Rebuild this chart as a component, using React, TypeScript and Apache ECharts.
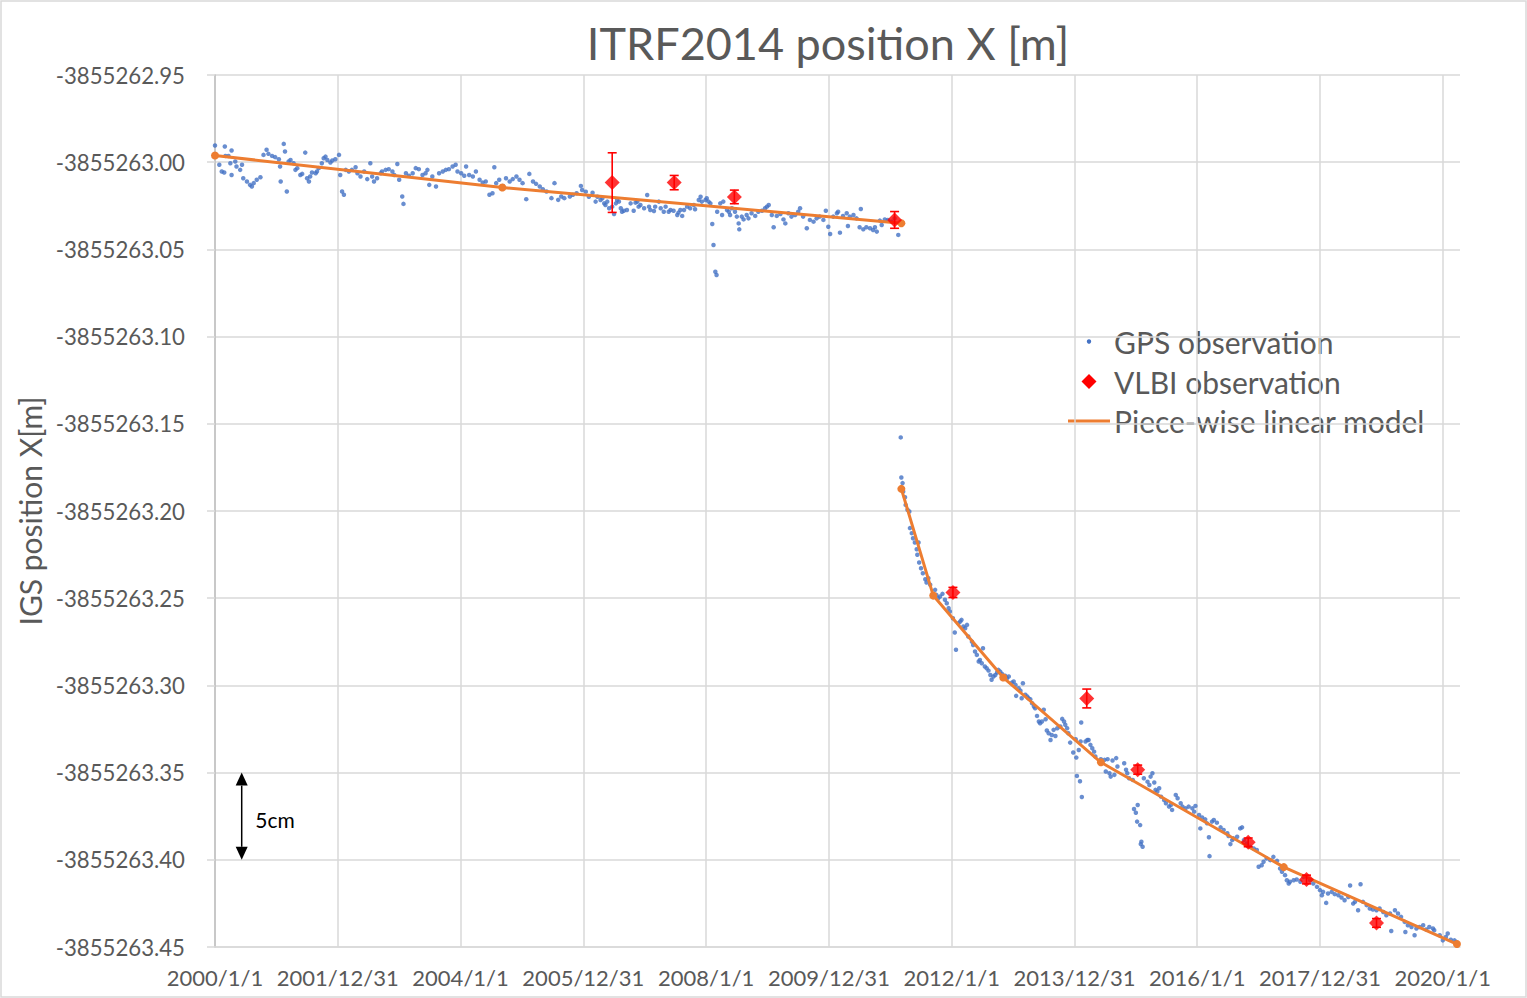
import React, { useEffect, useRef } from "react";
import * as echarts from "echarts";

// Reference level: values below are offsets from this position, in millimetres.
const REF_X_M = -3855263;

// x values are decimal years (365.25-day years counted from 2000/1/1)
const X_TICK_YEARS = [2000, 2002, 2004, 2006, 2008, 2010, 2012, 2014, 2016, 2018, 2020];

const GPS_BEFORE: [number, number][] = [
  [2000.00,9.6],[2000.16,9.0],[2000.17,3.6],[2000.27,6.7],[2000.22,3.6],[2000.07,-1.5],[2000.11,-5.3],[2000.15,-5.9],
  [2000.27,-7.3],[2000.25,-0.6],[2000.33,0.4],[2000.35,-2.5],[2000.41,-4.4],[2000.44,-1.5],[2000.46,-9.2],[2000.52,-11.1],
  [2000.57,-13.0],[2000.60,-13.9],[2000.63,-12.0],[2000.68,-10.1],[2000.74,-8.6],[2000.79,4.2],[2000.84,7.1],[2000.87,4.8],
  [2000.93,3.6],[2000.98,2.9],[2001.04,1.7],[2001.06,-2.5],[2001.07,-11.1],[2001.12,10.5],[2001.14,6.1],[2001.17,-16.8],
  [2001.20,0.4],[2001.23,1.3],[2001.28,-0.6],[2001.31,-4.4],[2001.34,-3.4],[2001.39,-7.3],[2001.42,-6.7],[2001.47,5.5],
  [2001.50,-9.2],[2001.53,-11.1],[2001.55,-8.2],[2001.58,-5.9],[2001.64,-6.3],[2001.66,-5.3],[2001.69,-3.4],[2001.74,-0.6],
  [2001.77,2.3],[2001.80,3.2],[2001.83,1.3],[2001.88,-0.2],[2001.91,1.0],[2001.96,1.7],[2002.02,4.2],[2002.04,-7.3],
  [2002.07,-16.8],[2002.10,-18.7],[2002.13,-4.4],[2002.18,-5.3],[2002.23,-4.4],[2002.29,-2.9],[2002.32,-6.3],[2002.37,-8.2],
  [2002.43,-5.3],[2002.48,-9.7],[2002.53,-0.6],[2002.56,-8.2],[2002.59,-11.1],[2002.64,-9.2],[2002.70,-6.3],[2002.72,-5.3],
  [2002.78,-4.4],[2002.83,-4.0],[2002.89,-5.3],[2002.92,-7.3],[2002.97,-1.0],[2003.00,-10.1],[2003.05,-19.7],[2003.07,-23.9],
  [2003.11,-6.3],[2003.16,-7.8],[2003.22,-6.3],[2003.27,-3.4],[2003.32,-4.0],[2003.38,-7.3],[2003.43,-6.3],[2003.46,-4.4],
  [2003.49,-13.0],[2003.54,-8.2],[2003.60,-13.9],[2003.65,-6.3],[2003.71,-5.3],[2003.76,-4.4],[2003.81,-4.0],[2003.87,-2.5],
  [2003.92,-1.5],[2003.95,-5.3],[2004.01,-6.3],[2004.06,-7.8],[2004.09,-2.5],[2004.14,-7.3],[2004.20,-8.2],[2004.25,-5.3],
  [2004.31,-10.1],[2004.36,-11.7],[2004.41,-11.1],[2004.47,-18.7],[2004.52,-17.8],[2004.55,-2.9],[2004.58,-12.0],[2004.63,-10.1],
  [2004.69,-13.6],[2004.74,-9.2],[2004.80,-11.1],[2004.85,-9.7],[2004.91,-8.2],[2004.96,-10.1],[2005.01,-12.0],[2005.07,-21.2],
  [2005.12,-6.7],[2005.18,-11.1],[2005.23,-12.4],[2005.29,-13.9],[2005.34,-15.5],[2005.40,-16.8],[2005.48,-20.6],[2005.53,-12.0],
  [2005.59,-21.6],[2005.64,-19.7],[2005.69,-20.6],[2005.78,-19.7],[2005.83,-18.7],[2005.89,-17.8],
  [2005.96,-13.6],[2005.98,-15.9],[2006.04,-16.9],[2006.09,-19.8],[2006.15,-17.5],[2006.20,-22.6],[2006.23,-19.8],[2006.28,-21.7],
  [2006.31,-20.7],[2006.34,-23.6],[2006.36,-24.5],[2006.39,-22.6],[2006.42,-26.4],[2006.47,-25.5],[2006.50,-29.7],[2006.53,-23.6],
  [2006.55,-21.7],[2006.58,-22.6],[2006.61,-26.4],[2006.63,-28.4],[2006.66,-27.8],[2006.71,-27.4],[2006.77,-23.6],[2006.82,-27.8],
  [2006.85,-23.2],[2006.88,-22.6],[2006.90,-25.5],[2006.93,-24.5],[2006.99,-26.4],[2007.04,-18.8],[2007.07,-25.5],[2007.09,-27.4],
  [2007.15,-28.0],[2007.17,-25.5],[2007.23,-22.6],[2007.26,-26.4],[2007.31,-28.4],[2007.34,-25.5],[2007.39,-28.4],[2007.42,-27.4],
  [2007.47,-27.8],[2007.53,-30.3],[2007.55,-28.9],[2007.58,-27.4],[2007.61,-30.8],[2007.64,-27.4],[2007.69,-25.5],[2007.74,-26.4],
  [2007.80,-24.5],[2007.82,-27.0],[2007.88,-21.7],[2007.91,-19.8],[2007.93,-22.6],[2007.99,-21.7],[2008.01,-20.7],[2008.04,-22.6],
  [2008.07,-23.6],[2008.10,-35.4],[2008.12,-47.5],[2008.15,-62.8],[2008.17,-64.7],[2008.18,-28.4],[2008.23,-23.6],[2008.26,-30.3],
  [2008.28,-22.6],[2008.34,-27.4],[2008.37,-28.4],[2008.39,-30.3],[2008.42,-26.4],[2008.47,-28.4],[2008.50,-31.2],[2008.53,-35.1],
  [2008.54,-38.5],[2008.58,-31.2],[2008.61,-32.8],[2008.66,-30.3],[2008.69,-32.2],[2008.74,-29.3],[2008.80,-30.8],[2008.85,-28.4],
  [2008.91,-27.8],[2008.96,-26.4],[2008.99,-25.5],[2009.02,-24.5],[2009.07,-30.3],[2009.10,-37.3],[2009.15,-30.8],[2009.21,-29.7],
  [2009.26,-32.8],[2009.29,-35.1],[2009.34,-29.3],[2009.39,-31.2],[2009.45,-30.3],[2009.50,-28.4],[2009.53,-26.4],[2009.58,-31.2],
  [2009.64,-37.9],[2009.69,-33.1],[2009.75,-34.1],[2009.80,-32.2],[2009.85,-31.2],[2009.91,-33.1],[2009.95,-27.8],[2009.99,-37.0],
  [2010.02,-41.2],[2010.07,-31.2],[2010.13,-29.3],[2010.15,-28.4],[2010.18,-40.4],[2010.23,-30.8],[2010.29,-29.3],[2010.31,-36.6],
  [2010.34,-31.2],[2010.40,-30.3],[2010.45,-32.2],[2010.50,-37.3],[2010.52,-26.8],[2010.56,-38.5],[2010.61,-37.3],[2010.67,-37.9],
  [2010.72,-38.9],[2010.75,-37.3],[2010.78,-39.8],[2010.83,-33.5],[2010.86,-36.0],[2010.91,-32.8],[2010.96,-33.1],[2011.02,-34.1],
  [2011.07,-32.2],[2011.13,-41.7],
];

const GPS_AFTER: [number, number][] = [
  [2011.17,-157.8],[2011.18,-180.8],[2011.20,-184.0],[2011.21,-188.8],[2011.24,-192.1],[2011.25,-196.5],[2011.28,-199.3],[2011.31,-200.3],
  [2011.32,-209.8],[2011.35,-212.7],[2011.37,-215.6],[2011.40,-218.1],[2011.43,-221.9],[2011.46,-218.1],[2011.44,-225.1],[2011.47,-229.5],
  [2011.50,-232.8],[2011.53,-235.7],[2011.57,-239.1],[2011.59,-241.0],[2011.62,-238.5],[2011.65,-242.3],[2011.73,-245.2],[2011.75,-248.1],
  [2011.78,-250.0],[2011.81,-249.0],[2011.85,-247.5],[2011.89,-250.9],[2011.92,-252.9],[2011.95,-255.7],[2011.97,-257.6],[2012.02,-261.5],
  [2012.05,-269.7],[2012.07,-279.6],[2012.11,-264.3],[2012.14,-263.4],[2012.16,-262.4],[2012.19,-266.2],[2012.22,-267.2],[2012.25,-265.3],
  [2012.27,-272.0],[2012.33,-274.9],[2012.35,-276.8],[2012.38,-280.6],[2012.41,-282.5],[2012.44,-286.3],[2012.46,-285.4],[2012.49,-287.3],
  [2012.51,-278.7],[2012.54,-289.2],[2012.57,-290.2],[2012.60,-291.5],[2012.63,-294.0],[2012.65,-296.8],[2012.68,-294.9],[2012.71,-294.0],
  [2012.74,-292.6],[2012.76,-291.1],[2012.79,-292.1],[2012.82,-293.4],[2012.87,-294.5],[2012.90,-295.9],[2012.93,-294.9],[2012.98,-298.4],
  [2013.01,-297.8],[2013.04,-299.7],[2013.05,-306.0],[2013.09,-301.6],[2013.12,-303.0],[2013.14,-307.4],[2013.16,-298.8],[2013.20,-305.4],
  [2013.23,-306.4],[2013.25,-307.4],[2013.28,-307.9],[2013.31,-310.2],[2013.34,-312.1],[2013.36,-313.1],[2013.39,-317.5],[2013.42,-320.7],
  [2013.44,-321.7],[2013.47,-320.7],[2013.50,-314.0],[2013.53,-319.4],[2013.55,-325.9],[2013.58,-327.4],[2013.61,-331.3],[2013.63,-328.4],
  [2013.66,-325.5],[2013.69,-329.0],[2013.72,-324.6],[2013.77,-323.6],[2013.80,-319.2],[2013.83,-320.7],[2013.85,-322.6],[2013.88,-324.6],
  [2013.90,-327.4],[2013.93,-332.8],[2013.98,-338.5],[2014.02,-330.9],[2014.03,-341.4],[2014.04,-351.9],[2014.07,-337.0],[2014.09,-355.0],
  [2014.10,-332.2],[2014.11,-321.3],[2014.12,-364.0],[2014.18,-332.2],[2014.21,-331.3],[2014.23,-331.3],[2014.26,-334.1],[2014.29,-336.0],
  [2014.32,-338.0],[2014.34,-340.8],
  [2014.43,-342.3],[2014.49,-342.7],[2014.54,-342.3],[2014.62,-343.1],[2014.68,-341.7],[2014.70,-346.5],[2014.57,-350.4],[2014.51,-349.4],
  [2014.59,-352.3],[2014.65,-351.3],[2014.81,-344.6],[2014.84,-348.4],[2014.86,-350.4],[2014.89,-353.2],[2014.95,-354.2],[2014.97,-370.9],
  [2015.00,-373.0],[2015.02,-378.1],[2015.03,-368.6],[2015.07,-380.1],[2015.08,-391.0],[2015.11,-392.5],[2015.09,-389.6],[2015.13,-353.2],
  [2015.19,-355.2],[2015.22,-357.1],[2015.24,-352.3],[2015.27,-350.4],[2015.30,-355.7],[2015.32,-359.9],[2015.35,-360.9],[2015.38,-359.0],
  [2015.41,-363.8],[2015.46,-365.7],[2015.49,-367.6],[2015.54,-369.5],[2015.59,-371.4],[2015.57,-368.6],[2015.65,-362.8],[2015.68,-364.7],
  [2015.73,-367.6],[2015.76,-369.5],[2015.81,-370.5],[2015.86,-369.5],[2015.92,-370.5],[2015.97,-369.1],[2015.95,-372.4],[2016.03,-374.3],
  [2016.05,-382.0],[2016.08,-375.7],[2016.13,-376.8],[2016.16,-379.1],[2016.19,-387.1],[2016.20,-397.9],[2016.24,-378.1],[2016.27,-377.2],
  [2016.32,-378.7],[2016.38,-381.4],[2016.43,-382.9],[2016.49,-384.8],[2016.51,-386.4],[2016.54,-391.0],[2016.57,-388.7],[2016.59,-387.7],
  [2016.65,-386.8],[2016.70,-382.0],[2016.73,-381.4],[2016.76,-388.7],[2016.81,-390.6],[2016.86,-392.5],[2016.92,-393.5],[2016.97,-394.4],
  [2017.00,-404.0],[2017.05,-403.1],[2017.08,-401.1],[2017.13,-399.2],[2017.19,-400.2],[2017.24,-398.3],[2017.30,-400.6],[2017.35,-405.0],
  [2017.38,-406.9],[2017.43,-408.8],[2017.46,-411.7],[2017.49,-413.6],[2017.51,-412.6],[2017.57,-411.7],[2017.62,-411.3],[2017.68,-412.6],
  [2017.73,-409.8],[2017.84,-411.7],[2017.89,-413.6],[2017.95,-415.5],[2018.00,-417.4],[2018.03,-420.3],[2018.05,-418.4],[2018.10,-424.7],
  [2018.13,-419.3],[2018.19,-418.4],[2018.24,-419.7],[2018.30,-420.3],[2018.35,-421.6],[2018.40,-423.2],[2018.46,-421.3],[2018.49,-414.7],
  [2018.54,-425.1],[2018.57,-424.1],[2018.62,-428.9],[2018.66,-414.0],[2018.70,-424.1],[2018.76,-426.0],[2018.81,-427.9],[2018.86,-428.5],
  [2018.92,-428.9],[2018.97,-427.9],[2019.03,-429.9],[2019.08,-431.8],[2019.14,-430.8],[2019.16,-440.8],[2019.22,-428.9],[2019.27,-430.8],
  [2019.32,-432.7],[2019.38,-435.6],[2019.39,-441.4],[2019.43,-437.5],[2019.49,-438.5],[2019.54,-443.3],[2019.57,-439.4],[2019.62,-438.5],
  [2019.68,-437.5],[2019.73,-440.0],[2019.78,-438.5],[2019.84,-439.4],[2019.86,-440.4],[2019.95,-443.3],[2020.00,-446.2],[2020.05,-444.3],
  [2020.08,-442.3],[2020.13,-445.8],[2020.19,-446.2],[2020.22,-447.1],
];

// [year, offset mm, error mm]
const VLBI: [number, number, number][] = [
  [2006.47,-11.7,17.1],[2007.48,-11.7,4.1],[2008.46,-19.9,3.9],[2011.07,-33.1,4.8],[2012.02,-246.7,2.9],
  [2014.20,-307.5,5.4],[2015.03,-348.3,2.6],[2016.83,-390.0,2.5],[2017.78,-411.3,2.5],[2018.92,-436.2,2.5],
];

const MODEL_PRE: [number, number][] = [[2000.00,3.8],[2004.68,-14.5],[2011.18,-35.0]];
const MODEL_POST: [number, number][] = [
  [2011.18,-187.3],[2011.70,-248.5],[2012.84,-295.5],[2014.43,-344.1],[2017.41,-404.2],[2020.23,-448.3],
];

// 5 cm scale bar: [year, from mm, to mm]
const SCALE_BAR: [number, number, number][] = [[2000.435, -350, -400]];

const FONT = "Lato, 'Open Sans', sans-serif";
const GREY = "#595959";
const GRID = "#d9d9d9";

function fmtDate(v: number): string {
  const ms = Date.UTC(2000, 0, 1) + Math.round((v - 2000) * 365.25 * 86400000);
  const d = new Date(ms);
  return `${d.getUTCFullYear()}/${d.getUTCMonth() + 1}/${d.getUTCDate()}`;
}

export default function App() {
  const ref = useRef<HTMLDivElement>(null);
  useEffect(() => {
    if (!ref.current) return;
    const chart = echarts.init(ref.current, undefined, { renderer: "svg" });
    chart.setOption({
      animation: false,
      backgroundColor: "#ffffff",
      title: {
        text: "ITRF2014 position X [m]",
        left: 828,
        top: 43,
        textAlign: "center",
        textVerticalAlign: "middle",
        padding: 0,
        textStyle: { fontFamily: FONT, fontSize: 45, fontWeight: "normal", color: GREY },
      },
      grid: { left: 215, right: 67, top: 75, bottom: 51, containLabel: false },
      xAxis: {
        type: "value",
        min: 2000,
        max: 2020.28,
        interval: 2,
        axisLine: { show: true, onZero: false, lineStyle: { color: GRID, width: 1.5 } },
        axisTick: { show: false },
        splitLine: { show: true, showMaxLine: false, lineStyle: { color: GRID, width: 1.5 } },
        axisLabel: {
          color: GREY,
          fontFamily: FONT,
          fontSize: 22,
          margin: 19,
          showMaxLabel: false,
          formatter: (v: number) => (X_TICK_YEARS.indexOf(Math.round(v * 100) / 100) >= 0 ? fmtDate(v) : ""),
        },
      },
      yAxis: {
        type: "value",
        min: -450,
        max: 50,
        interval: 50,
        name: "IGS position X[m]",
        nameLocation: "middle",
        nameGap: 166,
        nameTextStyle: { fontFamily: FONT, fontSize: 30, color: GREY },
        axisLine: { show: true, onZero: false, lineStyle: { color: "#bfbfbf", width: 1.5 } },
        axisTick: { show: true, length: 8, lineStyle: { color: GRID, width: 1.5 } },
        splitLine: { show: true, lineStyle: { color: GRID, width: 1.5 } },
        axisLabel: {
          color: GREY,
          fontFamily: FONT,
          fontSize: 22.2,
          margin: 30,
          formatter: (v: number) => (REF_X_M + v / 1000).toFixed(2),
        },
      },
      graphic: [
        { type: "rect", shape: { x: 1, y: 1, width: 1525, height: 996 }, style: { fill: "none", stroke: GRID, lineWidth: 1.5 }, silent: true },
        { type: "circle", shape: { cx: 1089, cy: 341.5, r: 2.2 }, style: { fill: "#4472C4" } },
        { type: "polygon", shape: { points: [[1089, 374], [1096.5, 381.5], [1089, 389], [1081.5, 381.5]] }, style: { fill: "#FF0000" } },
        { type: "line", shape: { x1: 1068, y1: 421, x2: 1110, y2: 421 }, style: { stroke: "#ED7D31", lineWidth: 3 } },
        { type: "text", x: 1114, y: 341.5, style: { text: "GPS observation", fill: GREY, font: `30px ${FONT}`, align: "left", verticalAlign: "middle" } },
        { type: "text", x: 1114, y: 381.5, style: { text: "VLBI observation", fill: GREY, font: `30px ${FONT}`, align: "left", verticalAlign: "middle" } },
        { type: "text", x: 1114, y: 421, style: { text: "Piece-wise linear model", fill: GREY, font: `30px ${FONT}`, align: "left", verticalAlign: "middle" } },
      ],
      series: [
        {
          name: "GPS observation",
          type: "scatter",
          data: [...GPS_BEFORE, ...GPS_AFTER],
          symbol: "circle",
          symbolSize: 4.5,
          itemStyle: { color: "#4472C4" },
          z: 2,
        },
        {
          name: "Piece-wise linear model",
          type: "line",
          data: MODEL_PRE,
          symbol: "circle",
          symbolSize: 8,
          showSymbol: true,
          itemStyle: { color: "#ED7D31" },
          lineStyle: { color: "#ED7D31", width: 3 },
          z: 3,
        },
        {
          name: "Piece-wise linear model",
          type: "line",
          data: MODEL_POST,
          symbol: "circle",
          symbolSize: 8,
          showSymbol: true,
          itemStyle: { color: "#ED7D31" },
          lineStyle: { color: "#ED7D31", width: 3 },
          z: 3,
        },
        {
          name: "VLBI error",
          type: "custom",
          data: VLBI,
          encode: { x: 0, y: 1 },
          z: 4,
          renderItem: (params: any, api: any) => {
            const x = api.value(0);
            const y = api.value(1);
            const e = api.value(2);
            const hi = api.coord([x, y + e]);
            const lo = api.coord([x, y - e]);
            const w = 4.5;
            const style = { stroke: "#FF0000", lineWidth: 1.6 };
            return {
              type: "group",
              children: [
                { type: "line", shape: { x1: hi[0], y1: hi[1], x2: lo[0], y2: lo[1] }, style },
                { type: "line", shape: { x1: hi[0] - w, y1: hi[1], x2: hi[0] + w, y2: hi[1] }, style },
                { type: "line", shape: { x1: lo[0] - w, y1: lo[1], x2: lo[0] + w, y2: lo[1] }, style },
              ],
            };
          },
        },
        {
          name: "VLBI observation",
          type: "scatter",
          data: VLBI.map((d) => [d[0], d[1]]),
          symbol: "diamond",
          symbolSize: [15, 15],
          itemStyle: { color: "#FF0000" },
          z: 5,
        },
        {
          name: "5cm scale",
          type: "custom",
          data: SCALE_BAR,
          encode: { x: 0, y: [1, 2] },
          z: 6,
          renderItem: (params: any, api: any) => {
            const x = api.value(0);
            const top = api.coord([x, api.value(1)]);
            const bot = api.coord([x, api.value(2)]);
            const tx = top[0];
            const hw = 6;
            const hh = 13;
            return {
              type: "group",
              children: [
                { type: "line", shape: { x1: tx, y1: top[1] + hh, x2: tx, y2: bot[1] - hh }, style: { stroke: "#000", lineWidth: 1.5 } },
                { type: "polygon", shape: { points: [[tx, top[1]], [tx - hw, top[1] + hh], [tx + hw, top[1] + hh]] }, style: { fill: "#000" } },
                { type: "polygon", shape: { points: [[tx, bot[1]], [tx - hw, bot[1] - hh], [tx + hw, bot[1] - hh]] }, style: { fill: "#000" } },
                {
                  type: "text",
                  x: tx + 13.5,
                  y: (top[1] + bot[1]) / 2 + 3,
                  style: { text: "5cm", fill: "#000", font: `21px ${FONT}`, align: "left", verticalAlign: "middle" },
                },
              ],
            };
          },
        },
      ],
    });
    return () => chart.dispose();
  }, []);
  return <div ref={ref} style={{ position: "fixed", left: 0, top: 0, width: 1527, height: 998 }} />;
}
